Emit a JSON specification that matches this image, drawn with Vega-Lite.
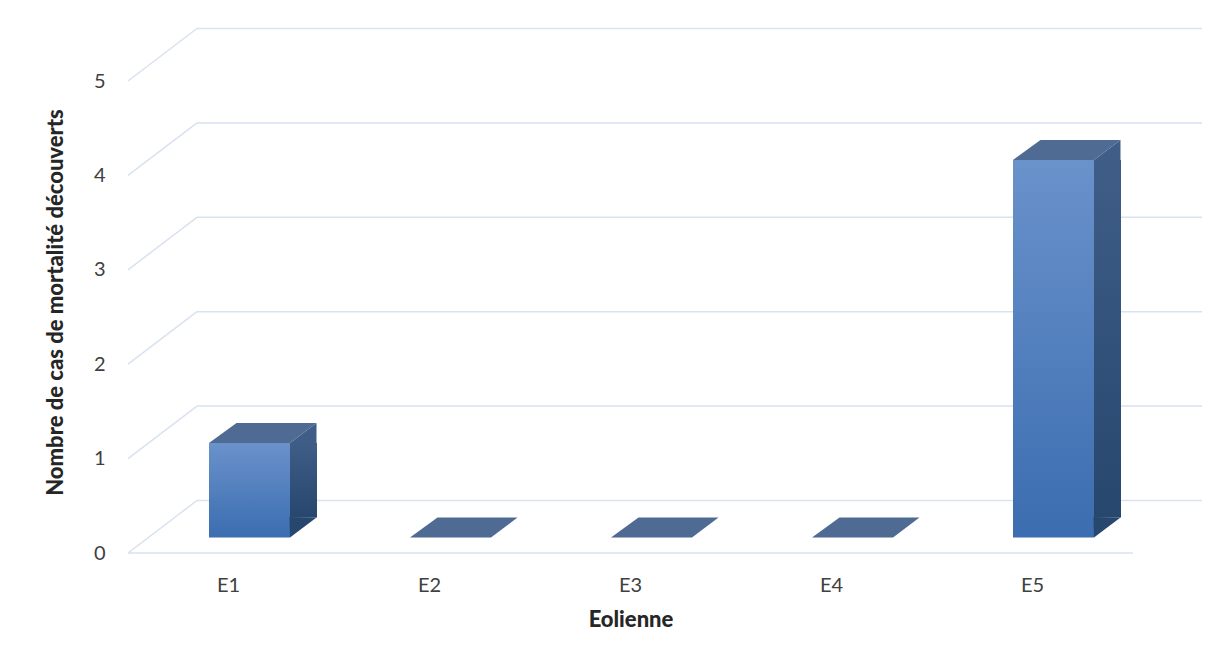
{
  "$schema": "https://vega.github.io/schema/vega-lite/v6.json",
  "width": 1005,
  "height": 472,
  "autosize": {"type": "none"},
  "padding": {"left": 128, "top": 81, "right": 97, "bottom": 104},
  "background": "white",
  "config": {
    "view": {"stroke": null},
    "font": "Lato",
    "axis": {"labelFont": "Lato", "titleFont": "Lato"}
  },
  "datasets": {
    "bars": [
      {"Eolienne": "E1", "value": 1},
      {"Eolienne": "E2", "value": 0},
      {"Eolienne": "E3", "value": 0},
      {"Eolienne": "E4", "value": 0},
      {"Eolienne": "E5", "value": 4}
    ],
    "ticks": [
      {"v": 0}, {"v": 1}, {"v": 2}, {"v": 3}, {"v": 4}, {"v": 5}
    ]
  },
  "resolve": {"scale": {"x": "independent"}},
  "layer": [
    {
      "data": {"name": "ticks"},
      "encoding": {
        "x": {"datum": 0, "type": "quantitative", "scale": {"domain": [0, 1]}, "axis": null},
        "y": {
          "field": "v",
          "type": "quantitative",
          "scale": {"domain": [0, 5], "nice": false},
          "axis": {
            "values": [0, 1, 2, 3, 4, 5],
            "format": "d",
            "title": "Nombre de cas de mortalité découverts",
            "grid": false,
            "ticks": false,
            "domain": false,
            "labelFontSize": 20,
            "labelColor": "#404040",
            "labelPadding": 23,
            "titleFontSize": 22,
            "titleFontWeight": 900,
            "titleColor": "#262626",
            "titlePadding": 26,
            "titleY": 221
          }
        }
      },
      "layer": [
        {
          "mark": {"type": "rule", "color": "#D9E2F0", "strokeWidth": 1.5, "xOffset": 69, "x2Offset": 69, "yOffset": -52.5, "y2Offset": -52.5},
          "encoding": {"x2": {"datum": 1}, "y2": {"field": "v"}}
        },
        {
          "mark": {"type": "rule", "color": "#D9E2F0", "strokeWidth": 1.5, "x2Offset": 69, "y2Offset": -52.5},
          "encoding": {"x2": {"datum": 0}, "y2": {"field": "v"}}
        },
        {
          "transform": [{"filter": "datum.v == 0"}],
          "mark": {"type": "rule", "color": "#D9E2F0", "strokeWidth": 1.5},
          "encoding": {"x2": {"datum": 1}, "y2": {"field": "v"}}
        }
      ]
    },
    {
      "data": {"name": "bars"},
      "encoding": {
        "x": {
          "field": "Eolienne",
          "type": "nominal",
          "scale": {"paddingInner": 0.597, "paddingOuter": 0.2985},
          "axis": {
            "title": "Eolienne",
            "labelAngle": 0,
            "labelFontSize": 20,
            "labelColor": "#404040",
            "labelPadding": 22,
            "ticks": false,
            "domain": false,
            "titleFontSize": 22,
            "titleFontWeight": 900,
            "titleColor": "#262626",
            "titlePadding": 14
          }
        }
      },
      "layer": [
        {
          "mark": {
            "type": "bar",
            "xOffset": 21,
            "yOffset": -15.5,
            "y2Offset": -15.5,
            "color": {
              "gradient": "linear", "x1": 0, "y1": 0, "x2": 0, "y2": 1,
              "stops": [{"offset": 0, "color": "#6A92CB"}, {"offset": 1, "color": "#3B6DB0"}]
            }
          },
          "encoding": {
            "y": {
              "field": "value",
              "type": "quantitative",
              "axis": {
                "values": [0, 1, 2, 3, 4, 5],
                "format": "d",
                "title": "Nombre de cas de mortalité découverts",
                "grid": false,
                "ticks": false,
                "domain": false,
                "labelFontSize": 20,
                "labelColor": "#404040",
                "labelPadding": 23,
                "titleFontSize": 22,
                "titleFontWeight": 900,
                "titleColor": "#262626",
                "titlePadding": 26,
                "titleY": 221
              }
            },
            "y2": {"datum": 0}
          }
        },
        {
          "transform": [{"filter": "datum.value > 0"}],
          "mark": {
            "type": "bar",
            "width": 27,
            "xOffset": 75,
            "yOffset": -15.5,
            "y2Offset": -35.5,
            "color": {
              "gradient": "linear", "x1": 0, "y1": 0, "x2": 0, "y2": 1,
              "stops": [{"offset": 0, "color": "#3F5D86"}, {"offset": 1, "color": "#27476F"}]
            }
          },
          "encoding": {
            "y": {"field": "value", "type": "quantitative"},
            "y2": {"datum": 0}
          }
        },
        {
          "transform": [{"filter": "datum.value > 0"}],
          "mark": {
            "type": "point",
            "shape": "M0.75,0L1.241,-0.37L1.241,0.01L0.74,0.01Z",
            "size": 11664,
            "filled": true,
            "opacity": 1,
            "color": "#3F5D86",
            "strokeWidth": 0,
            "xOffset": 21,
            "yOffset": -15.5
          },
          "encoding": {
            "y": {"field": "value", "type": "quantitative"}
          }
        },
        {
          "transform": [{"filter": "datum.value > 0"}],
          "mark": {
            "type": "point",
            "shape": "M0.74,-0.38L0.75,0L1.241,-0.37L0.74,-0.38Z",
            "size": 11664,
            "filled": true,
            "opacity": 1,
            "color": "#27476F",
            "strokeWidth": 0,
            "xOffset": 21,
            "yOffset": -15.5
          },
          "encoding": {
            "y": {"datum": 0, "type": "quantitative"}
          }
        },
        {
          "mark": {
            "type": "point",
            "shape": "M-0.75,0L0.75,0L1.241,-0.37L-0.241,-0.37Z",
            "size": 11664,
            "filled": true,
            "opacity": 1,
            "color": "#4F6A93",
            "strokeWidth": 0,
            "xOffset": 21,
            "yOffset": -15.5
          },
          "encoding": {
            "y": {"field": "value", "type": "quantitative"}
          }
        }
      ]
    }
  ]
}
